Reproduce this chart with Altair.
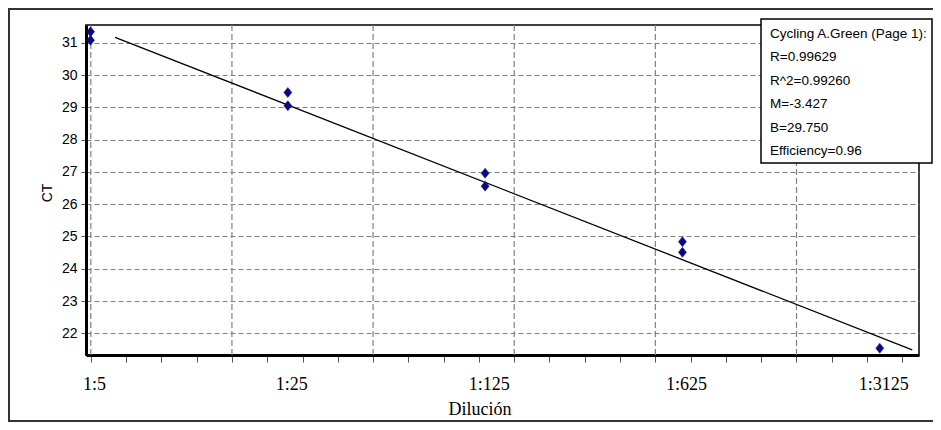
import altair as alt
import pandas as pd

# ---- values ----
dilution_labels = ["1:5", "1:25", "1:125", "1:625", "1:3125"]
dilution_x = [-0.501, 0.198, 0.897, 1.596, 2.295]

point_dilution = ["1:5", "1:5", "1:25", "1:25", "1:125", "1:125", "1:625", "1:625", "1:3125"]
point_ct = [31.34, 31.08, 29.46, 29.05, 26.96, 26.56, 24.84, 24.51, 21.54]

grid_x = [-0.5, 0.0, 0.5, 1.0, 1.5, 2.0]
minor_tick_x = [-0.5, -0.375, -0.25, -0.125, 0.0, 0.125, 0.25, 0.375, 0.5, 0.625, 0.75, 0.875,
                1.0, 1.125, 1.25, 1.375, 1.5, 1.625, 1.75, 1.875, 2.0, 2.125, 2.25, 2.375]
y_ticks = [22, 23, 24, 25, 26, 27, 28, 29, 30, 31]

fit_M = -3.427
fit_B = 29.750
line_x = [-0.414, 2.41]

legend_lines = ["Cycling A.Green (Page 1):", "R=0.99629", "R^2=0.99260",
                "M=-3.427", "B=29.750", "Efficiency=0.96"]

# ---- tables ----
xpos = dict(zip(dilution_labels, dilution_x))
points = pd.DataFrame({"x": [xpos[d] for d in point_dilution], "ct": point_ct})
fit = pd.DataFrame({"x": line_x, "ct": [fit_B + fit_M * v for v in line_x]})
grid = pd.DataFrame({"x": grid_x})
labels = pd.DataFrame({"x": dilution_x, "label": dilution_labels})
legend = pd.DataFrame({"text": ["\n".join(legend_lines)]})
one = pd.DataFrame({"k": [0]})

W, H = 833, 330
xscale = alt.Scale(domain=[-0.517, 2.434], nice=False, zero=False)
yscale = alt.Scale(domain=[21.33, 31.55], nice=False, zero=False)

xaxis = alt.Axis(values=minor_tick_x, labels=False, grid=False, title=None,
                 domainColor="black", domainWidth=3, tickColor="#555555",
                 tickSize=7, tickWidth=1)
yaxis = alt.Axis(values=y_ticks, grid=True, gridDash=[5, 3], gridColor="#808080",
                 gridWidth=1.2, domainColor="black", domainWidth=3,
                 tickColor="#555555", tickSize=5, labelFont="Liberation Sans",
                 labelFontSize=14, labelColor="black", labelPadding=4, title=None)

vgrid = alt.Chart(grid).mark_rule(color="#808080", strokeDash=[6, 3], strokeWidth=1.2).encode(
    x=alt.X("x:Q", scale=xscale, axis=xaxis)
)

fit_line = alt.Chart(fit).mark_line(color="black", strokeWidth=1.3).encode(
    x=alt.X("x:Q", scale=xscale, axis=xaxis),
    y=alt.Y("ct:Q", scale=yscale, axis=yaxis),
)

pts = alt.Chart(points).mark_point(
    shape="M0,-1.25L1,0L0,1.25L-1,0Z", size=64, filled=True, fill="#0a0a80",
    stroke="#0a0a80", strokeWidth=0.5, opacity=1
).encode(
    x=alt.X("x:Q", scale=xscale, axis=xaxis),
    y=alt.Y("ct:Q", scale=yscale, axis=yaxis),
)

xlabels = alt.Chart(labels).mark_text(
    font="Liberation Serif", fontSize=18, color="black", baseline="middle", align="center", dx=4
).encode(
    x=alt.X("x:Q", scale=xscale, axis=xaxis),
    y=alt.value(360),
    text="label:N",
)

xtitle = alt.Chart(one).mark_text(
    text="Dilución", font="Liberation Serif", fontSize=18, color="black",
    baseline="middle", align="center"
).encode(x=alt.value(394), y=alt.value(385))

ytitle = alt.Chart(one).mark_text(
    text="CT", font="Liberation Sans", fontSize=14, color="black",
    baseline="middle", align="center", angle=270
).encode(x=alt.value(-38), y=alt.value(168))

legend_box = alt.Chart(one).mark_rect(
    fill="white", stroke="black", strokeWidth=1.5
).encode(x=alt.value(675), x2=alt.value(846), y=alt.value(-6), y2=alt.value(138))

legend_text = alt.Chart(legend).mark_text(
    font="Liberation Sans", fontSize=13.5, color="black", align="left",
    baseline="alphabetic", lineBreak="\n", lineHeight=23.4
).encode(
    x=alt.value(684),
    y=alt.value(13),
    text="text:N",
)

frame = alt.Chart(one).mark_rect(
    fillOpacity=0, stroke="#333333", strokeWidth=2
).encode(x=alt.value(-77), x2=alt.value(870), y=alt.value(-16), y2=alt.value(396))

chart = alt.layer(
    vgrid, fit_line, pts, xlabels, xtitle, ytitle, legend_box, legend_text, frame
).properties(
    width=W, height=H,
    autosize=alt.AutoSizeParams(type="none"),
    padding={"left": 78, "top": 17, "right": 14, "bottom": 67},
    background="white",
).configure_view(stroke="black", strokeWidth=1.5)

chart.save("out.html", embed_options={"renderer": "svg", "actions": False})
